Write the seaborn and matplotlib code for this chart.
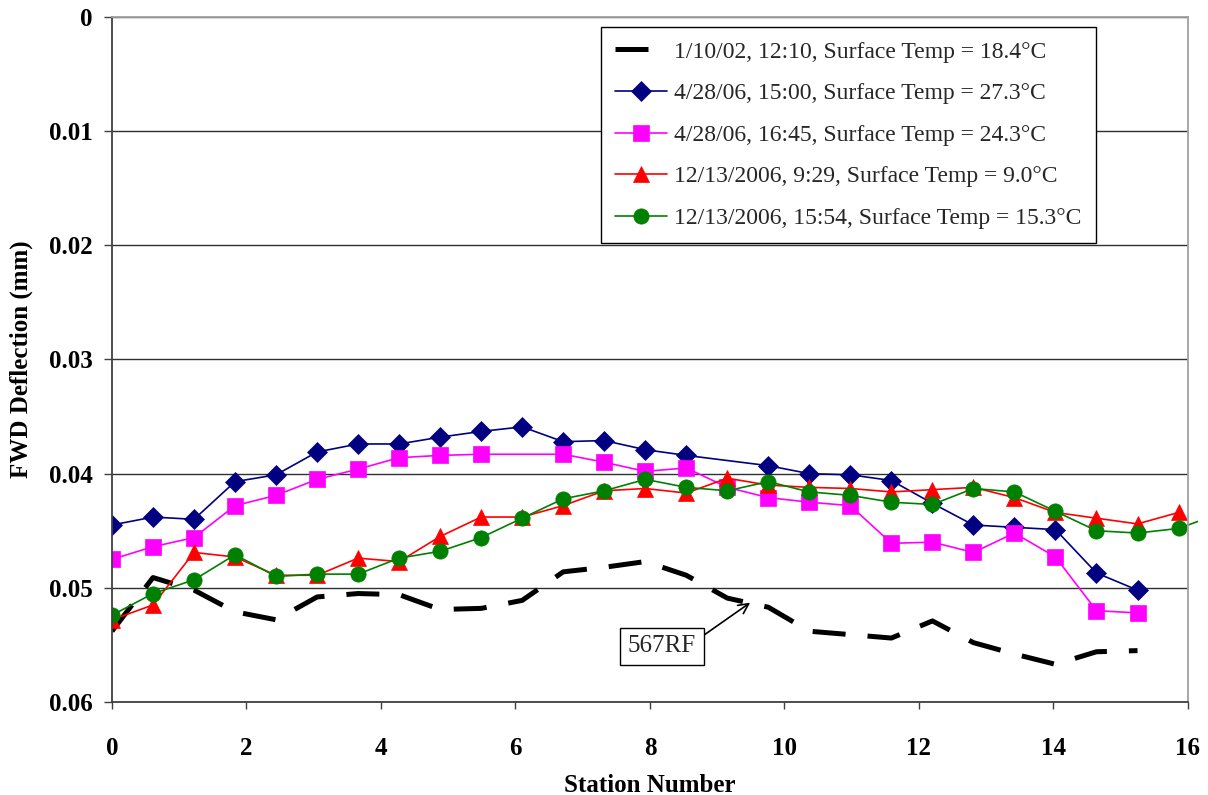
import matplotlib
matplotlib.use("Agg")
import matplotlib.pyplot as plt
from matplotlib.patches import Rectangle
import seaborn as sns
import pandas as pd

# Station positions along the test section
stations = [0.00, 0.61, 1.22, 1.83, 2.44, 3.05, 3.66, 4.27, 4.88, 5.49,
            6.10, 6.71, 7.32, 7.93, 8.54, 9.15, 9.76, 10.37, 10.98, 11.59,
            12.20, 12.81, 13.42, 14.03, 14.64, 15.25, 15.86, 16.47]

# FWD deflections (mm) for each survey
defl_2002 = [0.0538, 0.0491, 0.0502, 0.0521, 0.0528, 0.0508, 0.0505, 0.0506,
             0.0519, 0.0518, 0.0511, 0.0486, 0.0482, 0.0477, 0.0489, 0.0509,
             0.0517, 0.0538, 0.0541, 0.0544, 0.0529, 0.0548, 0.0558, 0.0567,
             0.0556, 0.0555]

# 4/28/06 15:00 (no reading at station index 15)
idx_0428a = [0, 1, 2, 3, 4, 5, 6, 7, 8, 9, 10, 11, 12, 13, 14,
             16, 17, 18, 19, 20, 21, 22, 23, 24, 25]
defl_0428a = [0.0445, 0.0438, 0.0440, 0.0407, 0.0401, 0.0381, 0.0374, 0.0374,
              0.0368, 0.0363, 0.0359, 0.0372, 0.0371, 0.0379, 0.0384,
              0.0393, 0.0400, 0.0401, 0.0406, 0.0426, 0.0445, 0.0447, 0.0449,
              0.0487, 0.0502]

# 4/28/06 16:45 (no reading at station index 10)
idx_0428b = [0, 1, 2, 3, 4, 5, 6, 7, 8, 9, 11, 12, 13, 14, 15,
             16, 17, 18, 19, 20, 21, 22, 23, 24, 25]
defl_0428b = [0.0475, 0.0464, 0.0456, 0.0428, 0.0419, 0.0405, 0.0396, 0.0386,
              0.0384, 0.0383, 0.0383, 0.0390, 0.0398, 0.0395, 0.0412,
              0.0421, 0.0425, 0.0428, 0.0461, 0.0460, 0.0469, 0.0452, 0.0473,
              0.0520, 0.0522]

defl_1213a = [0.0528, 0.0515, 0.0469, 0.0473, 0.0489, 0.0489, 0.0474, 0.0477,
              0.0455, 0.0438, 0.0438, 0.0428, 0.0415, 0.0413, 0.0417, 0.0404,
              0.0410, 0.0412, 0.0413, 0.0416, 0.0414, 0.0412, 0.0421, 0.0434,
              0.0439, 0.0444, 0.0434]

defl_1213b = [0.0524, 0.0505, 0.0493, 0.0471, 0.0490, 0.0488, 0.0488, 0.0474,
              0.0468, 0.0456, 0.0439, 0.0422, 0.0415, 0.0405, 0.0412, 0.0415,
              0.0407, 0.0416, 0.0419, 0.0425, 0.0427, 0.0413, 0.0416, 0.0433,
              0.0450, 0.0452, 0.0448, 0.0435]

labels = [
    "1/10/02, 12:10, Surface Temp = 18.4\u00b0C",
    "4/28/06, 15:00, Surface Temp = 27.3\u00b0C",
    "4/28/06, 16:45, Surface Temp = 24.3\u00b0C",
    "12/13/2006, 9:29, Surface Temp = 9.0\u00b0C",
    "12/13/2006, 15:54, Surface Temp = 15.3\u00b0C",
]
y_ticks = [0, 0.01, 0.02, 0.03, 0.04, 0.05, 0.06]
x_ticks = [0, 2, 4, 6, 8, 10, 12, 14, 16]

sns.set_theme(style="white")
plt.rcParams["font.family"] = ["Liberation Serif", "DejaVu Serif"]

fig = plt.figure(figsize=(12.08, 7.95), dpi=100)
ax = fig.add_axes([0.0927, 0.1170, 0.8907, 0.8616])

fs = 18

series = [
    (stations[:len(defl_2002)], defl_2002, "black", None, 0),
    ([stations[i] for i in idx_0428a], defl_0428a, "#000080", "D", 10),
    ([stations[i] for i in idx_0428b], defl_0428b, "#FF00FF", "s", 11),
    (stations[:len(defl_1213a)], defl_1213a, "#FF0000", "^", 11),
    (stations[:len(defl_1213b)], defl_1213b, "#008000", "o", 11),
]

for (xs, ys, color, marker, ms), lab in zip(series, labels):
    df = pd.DataFrame({"Station": xs, "Deflection": ys})
    if marker is None:
        sns.lineplot(data=df, x="Station", y="Deflection", ax=ax, color=color,
                     linewidth=3.6, linestyle=(0, (6.6, 4.4)), label=lab,
                     estimator=None, sort=False)
    else:
        sns.lineplot(data=df, x="Station", y="Deflection", ax=ax, color=color,
                     linewidth=1.2, marker=marker, markersize=ms,
                     markeredgecolor=color, markerfacecolor=color,
                     markeredgewidth=0.5, label=lab,
                     estimator=None, sort=False)

# let the last survey line run slightly past the plot frame
last_line = ax.get_lines()[-1]
last_line.set_clip_path(Rectangle((0, 0), 1.009, 1.0, transform=ax.transAxes))

ax.set_xlim(0, 16)
ax.set_ylim(0.06, 0)
ax.set_xticks(x_ticks)
ax.set_yticks(y_ticks)
ax.set_xticklabels([str(v) for v in x_ticks])
ax.set_yticklabels(["0", "0.01", "0.02", "0.03", "0.04", "0.05", "0.06"])

ax.yaxis.grid(True, color="#303030", linewidth=1.0)
ax.xaxis.grid(False)
ax.set_axisbelow(True)

for side in ["left", "bottom"]:
    ax.spines[side].set_color("#404040")
    ax.spines[side].set_linewidth(1.3)
for side in ["top", "right"]:
    ax.spines[side].set_color("#a0a0a0")
    ax.spines[side].set_linewidth(1.3)

ax.tick_params(axis="y", which="major", direction="out", length=6, width=1,
               color="#404040", pad=8, left=True)
ax.tick_params(axis="x", which="major", direction="out", length=5, width=1,
               color="#404040", pad=20, bottom=True)
for t in ax.get_xticklabels() + ax.get_yticklabels():
    t.set_fontsize(fs)
    t.set_fontweight("bold")
    t.set_color("black")

ax.set_xlabel("Station Number", fontsize=fs, fontweight="bold", labelpad=10,
              color="black")
ax.set_ylabel("FWD Deflection (mm)", fontsize=fs, fontweight="bold",
              labelpad=11, color="black")

leg = ax.legend(loc="upper right", bbox_to_anchor=(0.9145, 0.9854),
                borderaxespad=0, fontsize=17, frameon=True, fancybox=False,
                shadow=False, handlelength=2.2, handletextpad=0.3,
                labelspacing=0.85, borderpad=0.6)
leg.get_frame().set_edgecolor("black")
leg.get_frame().set_linewidth(1.0)
leg.get_frame().set_facecolor("white")
leg.get_frame().set_alpha(1)

ax.annotate("567RF", xy=(9.49, 0.0513), xytext=(8.18, 0.0551),
            fontsize=fs, ha="center", va="center",
            bbox=dict(boxstyle="square,pad=0.3", fc="white", ec="black", lw=1),
            arrowprops=dict(arrowstyle="->", color="black", lw=1.2,
                            shrinkA=0, shrinkB=0, relpos=(1.0, 0.75)))

fig.savefig("out.png", dpi=100)
